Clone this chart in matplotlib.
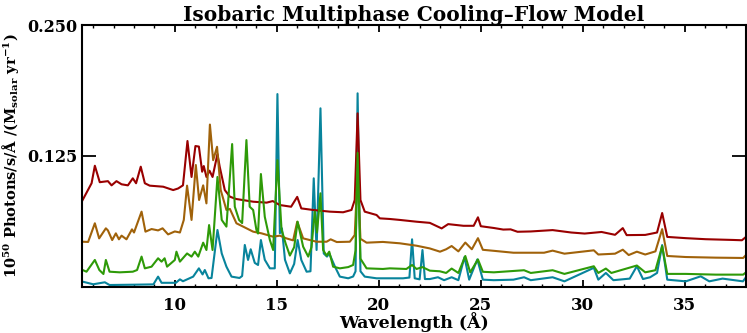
import matplotlib
matplotlib.use("Agg")
import matplotlib.pyplot as plt
from matplotlib.ticker import MultipleLocator, FixedLocator

plt.rcParams['font.family'] = ['DejaVu Serif']
plt.rcParams['font.weight'] = 'bold'
plt.rcParams['mathtext.fontset'] = 'custom'
plt.rcParams['mathtext.rm'] = 'DejaVu Serif:bold'
plt.rcParams['mathtext.bf'] = 'DejaVu Serif:bold'
plt.rcParams['mathtext.it'] = 'DejaVu Serif:bold'

title = "Isobaric Multiphase Cooling\u2013Flow Model"
xlabel = "Wavelength (\u00c5)"
ylabel = "10$^{50}$ Photons/s/\u00c5 /(M$_{\\rm solar}$ yr$^{-1}$)"

# ---- series (wavelength in Angstrom, flux) ----
red_wl = [5.48, 5.92, 6.08, 6.32, 6.72, 6.9, 7.14, 7.39, 7.7, 7.94, 8.1, 8.33, 8.53, 8.77,
          9.43, 9.92, 10.16, 10.4, 10.62, 10.82, 11.01, 11.18, 11.34, 11.42, 11.55, 11.7,
          11.85, 12.09, 12.2, 12.45, 12.7, 13.0, 13.84, 14.5, 14.8, 15.15, 15.7, 16.0,
          16.2, 16.78, 17.6, 18.25, 18.66, 18.82, 18.96, 19.1, 19.31, 19.89, 20.05, 20.54,
          21.03, 21.85, 22.5, 23.08, 23.4, 24.15, 24.65, 24.86, 25.0, 25.64, 26.1, 26.46,
          26.8, 27.45, 28.52, 29.43, 30.09, 30.92, 31.58, 31.96, 32.15, 33.06, 33.64,
          33.89, 34.14, 35.05, 36.03, 37.35, 37.8, 38.0]
red_fx = [0.083, 0.099, 0.1157, 0.100, 0.101, 0.097, 0.101, 0.098, 0.097, 0.1037, 0.099,
          0.1148, 0.099, 0.0967, 0.0957, 0.0925, 0.094, 0.097, 0.1393, 0.105, 0.1345,
          0.134, 0.110, 0.1154, 0.105, 0.111, 0.105, 0.1269, 0.1148, 0.0925, 0.0862,
          0.084, 0.0814, 0.0805, 0.082, 0.0782, 0.0766, 0.086, 0.075, 0.0735, 0.0719,
          0.0713, 0.0735, 0.083, 0.1657, 0.083, 0.0719, 0.0687, 0.0655, 0.0649, 0.064,
          0.0623, 0.0612, 0.0559, 0.060, 0.0584, 0.0584, 0.0665, 0.058, 0.0563, 0.0548,
          0.055, 0.0527, 0.053, 0.0543, 0.052, 0.051, 0.0525, 0.0498, 0.0562, 0.0495,
          0.0497, 0.052, 0.0706, 0.0478, 0.0466, 0.0456, 0.0449, 0.0446, 0.0478]

brown_wl = [5.48, 5.75, 6.08, 6.29, 6.62, 6.72, 6.93, 7.11, 7.26, 7.39, 7.63, 7.9, 8.0,
            8.37, 8.56, 8.86, 9.18, 9.4, 9.67, 10.0, 10.25, 10.44, 10.6, 10.82, 11.03,
            11.19, 11.39, 11.55, 11.72, 11.88, 12.07, 12.25, 12.53, 12.7, 13.02, 13.35,
            13.84, 14.25, 14.82, 15.15, 15.47, 15.8, 16.0, 16.29, 16.95, 17.44, 17.64,
            17.94, 18.58, 18.82, 18.96, 19.1, 19.4, 20.2, 21.03, 21.85, 22.5, 23.0, 23.3,
            23.57, 23.9, 24.24, 24.56, 24.86, 25.1, 25.65, 26.6, 28.1, 28.52, 29.1, 30.54,
            30.76, 31.58, 31.96, 32.25, 32.65, 33.06, 33.56, 33.89, 34.14, 35.05, 36.52,
            37.86, 38.0]
brown_fx = [0.0432, 0.043, 0.0608, 0.0464, 0.056, 0.054, 0.0448, 0.0512, 0.0455, 0.049,
            0.0455, 0.055, 0.052, 0.0719, 0.0528, 0.0553, 0.054, 0.056, 0.0502, 0.053,
            0.052, 0.064, 0.0967, 0.064, 0.1164, 0.083, 0.097, 0.0798, 0.155, 0.121,
            0.1338, 0.0925, 0.0735, 0.0745, 0.0608, 0.0576, 0.0528, 0.0512, 0.048, 0.049,
            0.0464, 0.0445, 0.0623, 0.0464, 0.0432, 0.0432, 0.0455, 0.0429, 0.0432,
            0.0496, 0.110, 0.046, 0.0423, 0.043, 0.0417, 0.0394, 0.0368, 0.0337, 0.036,
            0.0391, 0.034, 0.0424, 0.036, 0.0466, 0.0355, 0.0345, 0.0327, 0.0327, 0.0347,
            0.0318, 0.035, 0.031, 0.0318, 0.0356, 0.0305, 0.0337, 0.031, 0.034, 0.0552,
            0.0296, 0.0286, 0.028, 0.0277, 0.0305]

green_wl = [5.48, 5.67, 6.08, 6.3, 6.5, 6.62, 6.8, 7.3, 7.94, 8.15, 8.37, 8.53, 8.86, 9.18,
            9.35, 9.5, 9.62, 10.0, 10.08, 10.25, 10.6, 10.82, 10.98, 11.15, 11.39, 11.55,
            11.68, 11.85, 12.09, 12.3, 12.53, 12.81, 12.94, 13.15, 13.3, 13.51, 13.67,
            13.84, 14.0, 14.08, 14.22, 14.41, 14.66, 14.82, 15.03, 15.23, 15.43, 15.64,
            15.85, 16.02, 16.29, 16.54, 16.7, 16.86, 16.97, 17.14, 17.27, 17.44, 17.57,
            17.76, 18.09, 18.5, 18.74, 18.86, 18.96, 19.1, 19.4, 20.2, 20.54, 21.35, 21.63,
            21.85, 22.14, 22.5, 22.99, 23.3, 23.57, 23.9, 24.24, 24.48, 24.86, 25.1, 25.64,
            27.12, 27.45, 28.52, 29.1, 30.54, 30.76, 31.13, 31.4, 32.65, 33.06, 33.56,
            33.89, 34.14, 35.05, 36.52, 37.86, 38.0]
green_fx = [0.0162, 0.0146, 0.0258, 0.0162, 0.0124, 0.0258, 0.0146, 0.014, 0.0146, 0.0162,
            0.029, 0.0178, 0.0194, 0.0274, 0.0242, 0.0274, 0.0194, 0.0258, 0.0337, 0.0242,
            0.032, 0.029, 0.0337, 0.029, 0.0423, 0.0353, 0.0591, 0.0353, 0.105, 0.064,
            0.0576, 0.1364, 0.0766, 0.064, 0.061, 0.1402, 0.0766, 0.0735, 0.0544, 0.051,
            0.1078, 0.067, 0.0448, 0.0353, 0.121, 0.055, 0.0417, 0.0300, 0.0380, 0.0623,
            0.0385, 0.029, 0.038, 0.0719, 0.052, 0.0894, 0.0353, 0.030, 0.0337, 0.0194,
            0.0178, 0.019, 0.021, 0.035, 0.128, 0.027, 0.0178, 0.0172, 0.0178, 0.0172,
            0.021, 0.0172, 0.019, 0.0156, 0.015, 0.0134, 0.0176, 0.0134, 0.0296, 0.0140,
            0.0263, 0.0145, 0.014, 0.016, 0.0134, 0.016, 0.0125, 0.0198, 0.0134, 0.0176,
            0.0134, 0.0205, 0.0140, 0.016, 0.039, 0.0125, 0.0125, 0.0118, 0.0118, 0.014]

teal_wl = [5.48, 6.0, 6.57, 6.8, 8.0, 8.95, 9.18, 9.35, 10.05, 10.25, 10.4, 10.9, 11.18,
           11.36, 11.47, 11.65, 11.8, 12.09, 12.3, 12.53, 12.78, 13.17, 13.3, 13.43, 13.59,
           13.72, 13.92, 14.08, 14.22, 14.41, 14.66, 14.9, 15.03, 15.15, 15.25, 15.4,
           15.64, 15.85, 16.02, 16.2, 16.46, 16.65, 16.81, 16.95, 17.14, 17.3, 17.46,
           17.57, 17.85, 18.09, 18.5, 18.74, 18.86, 18.96, 19.1, 19.31, 19.89, 21.19, 21.5,
           21.63, 21.76, 22.0, 22.14, 22.26, 22.5, 22.9, 23.2, 23.57, 23.9, 24.2, 24.43,
           24.83, 25.1, 25.64, 26.6, 27.12, 27.45, 28.52, 29.1, 30.54, 30.76, 31.13, 31.5,
           32.3, 32.65, 32.95, 33.3, 33.64, 33.89, 34.14, 35.05, 35.78, 36.2, 36.85,
           37.85, 38.0]
teal_fx = [0.0051, 0.0026, 0.0045, 0.0019, 0.0022, 0.0025, 0.0099, 0.004, 0.004, 0.0073,
           0.0055, 0.0099, 0.0178, 0.012, 0.0162, 0.0083, 0.0086, 0.0544, 0.032, 0.0194,
           0.0099, 0.0086, 0.0105, 0.0401, 0.0258, 0.036, 0.023, 0.021, 0.0448, 0.026,
           0.0178, 0.0178, 0.1841, 0.0512, 0.056, 0.026, 0.013, 0.022, 0.0448, 0.0258,
           0.0146, 0.015, 0.1037, 0.0353, 0.1705, 0.032, 0.029, 0.032, 0.0194, 0.0099,
           0.0083, 0.010, 0.015, 0.1848, 0.015, 0.0099, 0.0083, 0.0083, 0.009, 0.0455,
           0.0083, 0.0073, 0.0353, 0.0076, 0.0076, 0.0093, 0.0065, 0.0093, 0.0065, 0.0286,
           0.007, 0.0263, 0.007, 0.0065, 0.007, 0.0093, 0.0065, 0.0093, 0.0054, 0.0183,
           0.007, 0.0134, 0.0065, 0.008, 0.0198, 0.0076, 0.0093, 0.0134, 0.040, 0.007,
           0.0054, 0.0102, 0.0054, 0.0080, 0.0054, 0.0093]

xticks_major = [10, 15, 20, 25, 30, 35]
yticks = [0.125, 0.250]
ytick_labels = ["0.125", "0.250"]

c_red = "#990000"
c_brown = "#A0620A"
c_green = "#2E9A08"
c_teal = "#08849C"

fig = plt.figure(figsize=(7.47, 3.33), dpi=100)
ax = fig.add_axes([82/747, 46/333, 664/747, 262/333])

lw = 1.5
ax.plot(teal_wl, teal_fx, color=c_teal, lw=lw)
ax.plot(red_wl, red_fx, color=c_red, lw=lw)
ax.plot(brown_wl, brown_fx, color=c_brown, lw=lw)
ax.plot(green_wl, green_fx, color=c_green, lw=lw)

ax.set_xlim(5.45, 38.0)
ax.set_ylim(0, 0.25)

ax.xaxis.set_major_locator(FixedLocator(xticks_major))
ax.xaxis.set_minor_locator(MultipleLocator(1))
ax.yaxis.set_major_locator(FixedLocator(yticks))
ax.set_yticklabels(ytick_labels)
ax.tick_params(axis='x', which='major', direction='in', length=5, width=1.3,
               top=True, labelsize=12, pad=7)
ax.tick_params(axis='x', which='minor', direction='in', length=2.5, width=1.0, top=True)
ax.tick_params(axis='y', which='major', direction='in', length=10, width=1.3,
               right=True, labelsize=11.5, pad=3)
for s in ax.spines.values():
    s.set_linewidth(1.5)

ax.set_title(title, fontsize=14.5, fontweight='bold', pad=3)
ax.set_xlabel(xlabel, fontsize=12.5, fontweight='bold', labelpad=-1)
ax.set_ylabel(ylabel, fontsize=10.5, fontweight='bold', labelpad=5)

fig.savefig("out.png", dpi=100)
